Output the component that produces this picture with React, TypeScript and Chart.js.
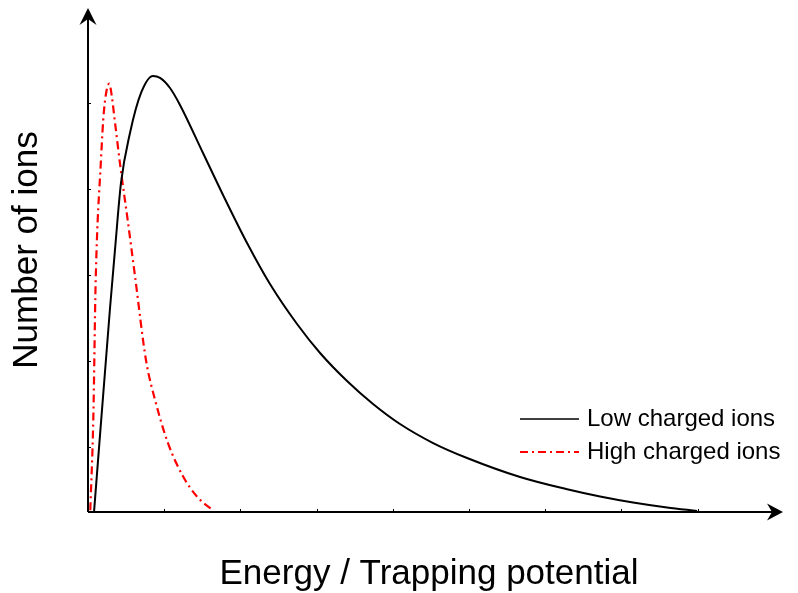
import React, { useEffect, useRef } from "react";
import { Chart, registerables } from "chart.js";

Chart.register(...registerables);

// Energy (x) / Number of ions (y), arbitrary units
const lowX = [0.079, 0.289, 0.354, 0.433, 0.551, 0.696, 0.853, 0.945, 1.076, 1.207, 1.509, 1.772, 2.087, 2.388, 2.743, 3.045, 3.399, 3.740, 4.094, 4.528, 4.974, 5.669, 6.273, 6.719, 7.152, 7.598, 7.992];
const lowY = [0.0, 2.372, 3.047, 3.826, 4.407, 4.872, 5.070, 5.047, 4.930, 4.733, 4.174, 3.686, 3.128, 2.651, 2.186, 1.849, 1.523, 1.256, 1.023, 0.802, 0.628, 0.407, 0.267, 0.180, 0.110, 0.052, 0.012];
const highX = [0.03, 0.07, 0.10, 0.17, 0.21, 0.28, 0.31, 0.35, 0.43, 0.52, 0.62, 0.76, 0.89, 1.05, 1.25, 1.44, 1.64];
const highY = [0.02, 1.10, 2.66, 4.09, 4.67, 4.98, 4.85, 4.56, 3.98, 3.40, 2.72, 1.77, 1.27, 0.80, 0.41, 0.17, 0.02];
const xTicks = [1, 2, 3, 4, 5, 6, 7, 8];
const yTicks = [0.75, 1.75, 2.75, 3.75, 4.75];
const seriesNames = ["Low charged ions", "High charged ions"];
const xTitle = "Energy / Trapping potential";
const yTitle = "Number of ions";
const X_MAX = 9.08;
const Y_MAX = 5.86;

const FONT = "Arial, 'Liberation Sans', sans-serif";

const decorPlugin = {
  id: "decor",
  afterDraw(chart: any) {
    const ctx = chart.ctx as CanvasRenderingContext2D;
    const xs = chart.scales.x;
    const ys = chart.scales.y;
    const x0 = xs.getPixelForValue(0);
    const y0 = ys.getPixelForValue(0);
    const xEnd = xs.getPixelForValue(X_MAX);
    const yEnd = ys.getPixelForValue(Y_MAX);
    ctx.save();
    ctx.strokeStyle = "#000";
    ctx.fillStyle = "#000";
    ctx.lineWidth = 2;
    // axes
    ctx.beginPath();
    ctx.moveTo(x0, y0);
    ctx.lineTo(xEnd - 4, y0);
    ctx.moveTo(x0, y0);
    ctx.lineTo(x0, yEnd + 4);
    ctx.stroke();
    // arrow heads
    ctx.beginPath();
    ctx.moveTo(xEnd + 3, y0);
    ctx.lineTo(xEnd - 13, y0 - 8.5);
    ctx.lineTo(xEnd - 8, y0);
    ctx.lineTo(xEnd - 13, y0 + 8.5);
    ctx.closePath();
    ctx.fill();
    ctx.beginPath();
    ctx.moveTo(x0, yEnd);
    ctx.lineTo(x0 - 8.5, yEnd + 17);
    ctx.lineTo(x0, yEnd + 11);
    ctx.lineTo(x0 + 8.5, yEnd + 17);
    ctx.closePath();
    ctx.fill();
    // inward ticks
    ctx.lineWidth = 1;
    ctx.beginPath();
    for (const t of xTicks) {
      const px = Math.round(xs.getPixelForValue(t)) + 0.5;
      ctx.moveTo(px, y0);
      ctx.lineTo(px, y0 - 3);
    }
    for (const t of yTicks) {
      const py = Math.round(ys.getPixelForValue(t)) + 0.5;
      ctx.moveTo(x0, py);
      ctx.lineTo(x0 + 3, py);
    }
    ctx.stroke();
    // titles
    ctx.font = `35px ${FONT}`;
    ctx.textAlign = "center";
    ctx.textBaseline = "middle";
    ctx.fillText(xTitle, 429, 574);
    ctx.save();
    ctx.translate(27, 250);
    ctx.rotate(-Math.PI / 2);
    ctx.fillText(yTitle, 0, 0);
    ctx.restore();
    // legend
    ctx.font = `24px ${FONT}`;
    ctx.textAlign = "left";
    ctx.lineWidth = 1.5;
    ctx.strokeStyle = "#000";
    ctx.setLineDash([]);
    ctx.beginPath();
    ctx.moveTo(520, 419);
    ctx.lineTo(579, 419);
    ctx.stroke();
    ctx.fillText(seriesNames[0], 587, 419);
    ctx.strokeStyle = "#ff0000";
    ctx.lineWidth = 2;
    ctx.setLineDash([8, 4, 2, 4]);
    ctx.beginPath();
    ctx.moveTo(520, 452);
    ctx.lineTo(579, 452);
    ctx.stroke();
    ctx.setLineDash([]);
    ctx.fillStyle = "#000";
    ctx.fillText(seriesNames[1], 587, 452);
    ctx.restore();
  },
};

export default function App() {
  const ref = useRef<HTMLCanvasElement>(null);
  useEffect(() => {
    if (!ref.current) return;
    const chart = new Chart(ref.current, {
      type: "line",
      data: {
        datasets: [
          {
            label: seriesNames[0],
            data: lowX.map((x, i) => ({ x, y: lowY[i] })),
            borderColor: "#000000",
            borderWidth: 2,
            pointRadius: 0,
            cubicInterpolationMode: "monotone",
            fill: false,
          },
          {
            label: seriesNames[1],
            data: highX.map((x, i) => ({ x, y: highY[i] })),
            borderColor: "#ff0000",
            borderWidth: 2.2,
            borderDash: [8, 4, 2, 4],
            pointRadius: 0,
            cubicInterpolationMode: "monotone",
            fill: false,
          },
        ],
      },
      options: {
        animation: false,
        responsive: false,
        maintainAspectRatio: false,
        layout: { padding: { left: 88, right: 18, top: 8, bottom: 81 } },
        plugins: { legend: { display: false }, tooltip: { enabled: false } },
        scales: {
          x: { type: "linear", min: 0, max: X_MAX, display: false },
          y: { type: "linear", min: 0, max: Y_MAX, display: false },
        },
      },
      plugins: [decorPlugin],
    });
    return () => chart.destroy();
  }, []);
  return (
    <div style={{ position: "fixed", left: 0, top: 0, width: 798, height: 593, background: "#fff" }}>
      <canvas ref={ref} width={798} height={593} style={{ width: 798, height: 593 }} />
    </div>
  );
}
